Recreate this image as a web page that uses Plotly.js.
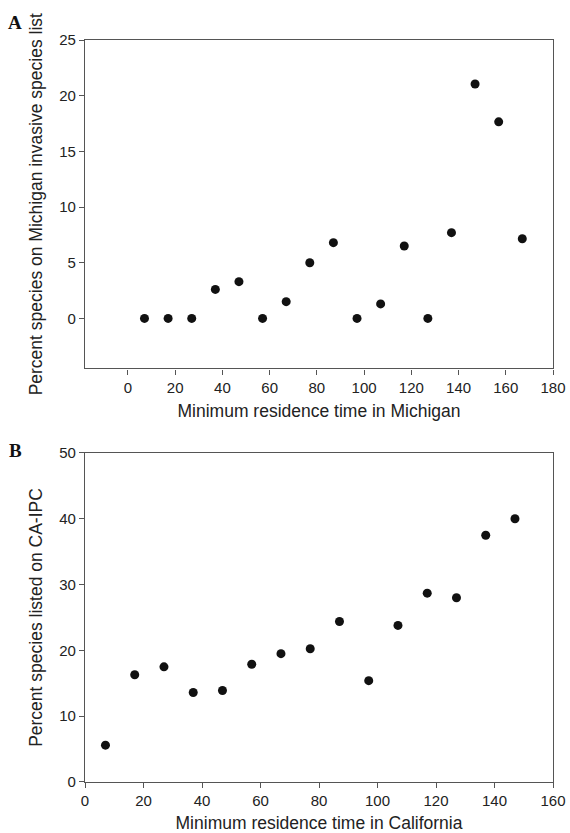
<!DOCTYPE html>
<html>
<head>
<meta charset="utf-8">
<script src="https://cdn.plot.ly/plotly-3.0.1.min.js"></script>
<style>html,body{margin:0;padding:0;background:#fff;}#chart{width:570px;height:833px;}</style>
</head>
<body>
<div id="chart"></div>
<script>
// Panel A: Michigan
const michiganTime = [7, 17, 27, 37, 47, 57, 67, 77, 87, 97, 107, 117, 127, 137, 147, 157, 167];
const michiganPercent = [0, 0, 0, 2.6, 3.3, 0, 1.5, 5.0, 6.8, 0, 1.3, 6.5, 0, 7.7, 21.05, 17.65, 7.15];
// Panel B: California
const californiaTime = [7, 17, 27, 37, 47, 57, 67, 77, 87, 97, 107, 117, 127, 137, 147];
const californiaPercent = [5.6, 16.3, 17.5, 13.6, 13.9, 17.9, 19.5, 20.25, 24.4, 15.4, 23.8, 28.7, 28.0, 37.5, 40.0];

const xTicksA = [0, 20, 40, 60, 80, 100, 120, 140, 160, 180];
const yTicksA = [0, 5, 10, 15, 20, 25];
const xTicksB = [0, 20, 40, 60, 80, 100, 120, 140, 160];
const yTicksB = [0, 10, 20, 30, 40, 50];

const marker = {size: 9, color: '#111111'};
const tickFont = {family: 'Liberation Sans, Arial, sans-serif', size: 15, color: '#222'};
const titleFont = {family: 'Liberation Sans, Arial, sans-serif', size: 17.5, color: '#222'};

const axisCommon = {
  showgrid: false, zeroline: false, showline: true, linecolor: '#555', linewidth: 1.3,
  mirror: true, ticks: 'outside', ticklen: 5, tickwidth: 1, tickcolor: '#555',
  tickfont: tickFont, fixedrange: true
};

const data = [
  {x: michiganTime, y: michiganPercent, type: 'scatter', mode: 'markers', marker: marker, xaxis: 'x', yaxis: 'y', hoverinfo: 'x+y'},
  {x: californiaTime, y: californiaPercent, type: 'scatter', mode: 'markers', marker: marker, xaxis: 'x2', yaxis: 'y2', hoverinfo: 'x+y'}
];

const layout = {
  width: 570, height: 833,
  margin: {l: 85, r: 17, t: 40, b: 51},
  paper_bgcolor: '#fff', plot_bgcolor: '#fff',
  showlegend: false,
  xaxis: Object.assign({}, axisCommon, {
    domain: [0, 1], anchor: 'y', range: [-18.2, 180], tickvals: xTicksA,
    title: {text: 'Minimum residence time in Michigan', font: titleFont, standoff: 10}
  }),
  yaxis: Object.assign({}, axisCommon, {
    domain: [0.5573, 1], anchor: 'x', range: [-4.5, 25], tickvals: yTicksA,
    title: {text: 'Percent species on Michigan invasive species list', font: titleFont, standoff: 12}
  }),
  xaxis2: Object.assign({}, axisCommon, {
    domain: [0, 1], anchor: 'y2', range: [0, 160], tickvals: xTicksB,
    title: {text: 'Minimum residence time in California', font: titleFont, standoff: 10}
  }),
  yaxis2: Object.assign({}, axisCommon, {
    domain: [0, 0.4434], anchor: 'x2', range: [0, 50], tickvals: yTicksB,
    title: {text: 'Percent species listed on CA-IPC', font: titleFont, standoff: 12}
  }),
  annotations: [
    {text: '<b>A</b>', xref: 'paper', yref: 'paper', x: -0.149, y: 1.024, xanchor: 'center', yanchor: 'middle', showarrow: false,
     font: {family: 'Liberation Serif, Times New Roman, serif', size: 19, color: '#111'}},
    {text: '<b>B</b>', xref: 'paper', yref: 'paper', x: -0.149, y: 0.4474, xanchor: 'center', yanchor: 'middle', showarrow: false,
     font: {family: 'Liberation Serif, Times New Roman, serif', size: 19, color: '#111'}}
  ]
};

Plotly.newPlot('chart', data, layout, {displayModeBar: false, staticPlot: false});
</script>
</body>
</html>
